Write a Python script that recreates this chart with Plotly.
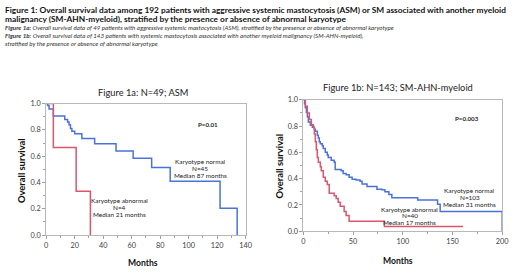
import plotly.graph_objects as go

# ---- Data ----
asm_normal_months = [0, 1, 2, 5, 13, 15, 16, 17, 18, 20, 25, 34, 49, 61, 74, 87, 122, 134]
asm_normal_surv = [1.0, 0.985, 0.96, 0.905, 0.88, 0.86, 0.84, 0.81, 0.79, 0.77, 0.735, 0.695, 0.64, 0.585, 0.515, 0.41, 0.205, 0.0]
asm_abnormal_months = [0, 5, 21, 31]
asm_abnormal_surv = [1.0, 0.667, 0.333, 0.0]

ahn_normal_months = [0, 1, 2, 3, 4, 5, 7, 9, 11, 12, 14, 15, 16, 17, 19, 20, 22, 24, 25, 28, 31, 32, 38, 40, 43, 46, 49, 53, 57, 59, 64, 74, 79, 82, 86, 89, 115, 135, 137.6, 200]
ahn_normal_surv = [1.0, 0.97, 0.94, 0.905, 0.87, 0.83, 0.806, 0.79, 0.775, 0.76, 0.73, 0.71, 0.68, 0.665, 0.65, 0.63, 0.60, 0.58, 0.56, 0.54, 0.525, 0.47, 0.46, 0.44, 0.43, 0.41, 0.395, 0.39, 0.38, 0.36, 0.34, 0.32, 0.316, 0.30, 0.28, 0.255, 0.238, 0.206, 0.15, 0.0]
ahn_abnormal_months = [0, 2, 4, 6, 8, 10, 11, 12, 13, 14, 15, 17, 18, 20, 22, 24, 26, 31, 33, 35, 37, 41, 43, 46, 81.5, 160.5]
ahn_abnormal_surv = [1.0, 0.95, 0.90, 0.85, 0.81, 0.79, 0.74, 0.68, 0.62, 0.56, 0.525, 0.49, 0.46, 0.41, 0.38, 0.355, 0.29, 0.27, 0.25, 0.22, 0.19, 0.15, 0.12, 0.076, 0.037, 0.037]

panel_titles = ["Figure 1a: N=49; ASM", "Figure 1b: N=143; SM-AHN-myeloid"]

header_bold = [
    "Figure 1: Overall survival data among 192 patients with aggressive systemic mastocytosis (ASM) or SM associated with another myeloid",
    "malignancy (SM-AHN-myeloid), stratified by the presence or absence of abnormal karyotype",
]
header_italic = [
    ("Figure 1a:", " Overall survival data of 49 patients with aggressive systemic mastocytosis (ASM), stratified by the presence or absence of abnormal karyotype"),
    ("Figure 1b:", " Overall survival data of 143 patients with systemic mastocytosis associated with another myeloid malignancy (SM-AHN-myeloid),"),
    ("", "stratified by the presence or absence of abnormal karyotype"),
]

BLUE = "#4a72d8"
RED = "#d9566c"
FONT = "Lato"

W, H = 520, 274

fig = go.Figure()

def px_x(p):
    return p / W

def px_y(p):
    return 1 - p / H

fig.add_trace(go.Scatter(x=asm_normal_months, y=asm_normal_surv, mode="lines", line=dict(color=BLUE, width=1.5, shape="hv"), xaxis="x", yaxis="y", showlegend=False))
fig.add_trace(go.Scatter(x=asm_abnormal_months, y=asm_abnormal_surv, mode="lines", line=dict(color=RED, width=1.5, shape="hv"), xaxis="x", yaxis="y", showlegend=False))
fig.add_trace(go.Scatter(x=ahn_normal_months, y=ahn_normal_surv, mode="lines", line=dict(color=BLUE, width=1.5, shape="hv"), xaxis="x2", yaxis="y2", showlegend=False))
fig.add_trace(go.Scatter(x=ahn_abnormal_months, y=ahn_abnormal_surv, mode="lines", line=dict(color=RED, width=1.5, shape="hv"), xaxis="x2", yaxis="y2", showlegend=False))

axis_common = dict(
    showgrid=False, zeroline=False, showline=True, mirror=True,
    linecolor="#b8b8b8", linewidth=1,
    ticks="outside", ticklen=3, tickcolor="#a0a0a0",
    tickfont=dict(family=FONT, size=7.3, color="#404040"),
)
minor = lambda d: dict(dtick=d, ticks="outside", ticklen=2, tickcolor="#a0a0a0")
fig.update_layout(
    xaxis=dict(domain=[px_x(45), px_x(248)], anchor="y", range=[0, 140], dtick=20, minor=minor(10), **axis_common),
    yaxis=dict(domain=[px_y(239), px_y(103)], anchor="x", range=[0, 1], dtick=0.2, tickformat=".1f", minor=minor(0.1), **axis_common),
    xaxis2=dict(domain=[px_x(306.7), px_x(509)], anchor="y2", range=[0, 200], dtick=50, minor=minor(25), **axis_common),
    yaxis2=dict(domain=[px_y(235), px_y(99)], anchor="x2", range=[0, 1], dtick=0.2, tickformat=".1f", minor=minor(0.1), **axis_common),
)

ann = []

def text(x, y, s, size, bold=False, italic=False, xanchor="center", color="#222", angle=0):
    if bold:
        s = "<b>" + s + "</b>"
    if italic:
        s = "<i>" + s + "</i>"
    ann.append(dict(x=px_x(x), y=px_y(y), xref="paper", yref="paper", text=s, showarrow=False,
                    xanchor=xanchor, yanchor="middle", textangle=angle,
                    font=dict(family=FONT, size=size, color=color)))

# header
text(1, 6.7, header_bold[0], 8.35, bold=True, xanchor="left", color="#111")
text(1, 16.0, header_bold[1], 8.35, bold=True, xanchor="left", color="#111")
for i, (b, rest) in enumerate(header_italic):
    s = ("<b>" + b + "</b>" if b else "") + rest
    text(1, 24.5 + 8 * i, s, 6.2, italic=True, xanchor="left", color="#333")

# panel titles
text(143, 92, panel_titles[0], 9.3, color="#222")
text(402.5, 86, panel_titles[1], 9.3, color="#222")

# axis titles
text(143, 267.5, "Months", 8.6, bold=True, color="#111")
text(402.5, 265.5, "Months", 8.6, bold=True, color="#111")
text(20, 172, "Overall survival", 9.4, bold=True, color="#111", angle=-90)
text(282, 168, "Overall survival", 9.4, bold=True, color="#111", angle=-90)

# in-plot notes: left panel
text(210, 125, "P=0.01", 6.2, bold=True)
for yy, s in zip([162.7, 170, 177.3], ["Karyotype normal", "N=45", "Median 87 months"]):
    text(201.7, yy, s, 6.4)
for yy, s in zip([202.7, 210, 217.3], ["Karyotype abnormal", "N=4", "Median 21 months"]):
    text(120, yy, s, 6.4)

# right panel
text(472.7, 118.7, "P=0.003", 6.2, bold=True)
for yy, s in zip([192.7, 200.3, 207.7], ["Karyotype normal", "N=103", "Median 31 months"]):
    text(476, yy, s, 6.4)
for yy, s in zip([212.3, 219, 226.3], ["Karyotype abnormal", "N=40", "Median 17 months"]):
    text(415, yy, s, 6.4)

fig.update_layout(
    width=W, height=H,
    margin=dict(l=0, r=0, t=0, b=0),
    paper_bgcolor="white", plot_bgcolor="white",
    annotations=ann,
)

fig.write_html("out.html", config={"displayModeBar": False},
               post_script="document.body.style.margin='0';document.body.style.padding='0';")
